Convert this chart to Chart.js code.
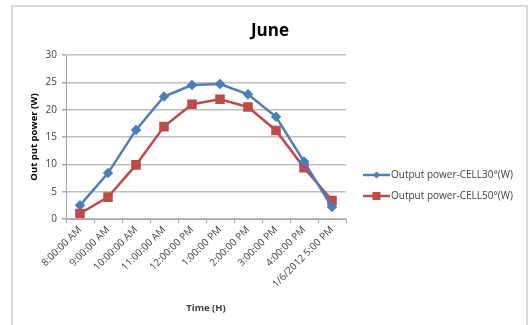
<!DOCTYPE html>
<html>
<head>
<meta charset="utf-8">
<script src="https://cdn.jsdelivr.net/npm/chart.js@4/dist/chart.umd.min.js"></script>
<style>
html,body{margin:0;padding:0;background:#fff;}
#wrap{width:530px;height:325px;position:relative;}
</style>
</head>
<body>
<div id="wrap"><canvas id="c" width="530" height="325"></canvas></div>
<script>
const chartTitle = "June";
const categories = ["8:00:00 AM","9:00:00 AM","10:00:00 AM","11:00:00 AM","12:00:00 PM","1:00:00 PM","2:00:00 PM","3:00:00 PM","4:00:00 PM","1/6/2012 5:00 PM"];
const cell30 = [2.5, 8.4, 16.3, 22.4, 24.5, 24.7, 22.8, 18.7, 10.5, 2.2];
const cell50 = [1.0, 4.0, 9.9, 16.9, 21.0, 21.9, 20.5, 16.2, 9.4, 3.4];
const seriesNames = ["Output power-CELL30°(W)", "Output power-CELL50°(W)"];
const yTicks = [0, 5, 10, 15, 20, 25, 30];
const xTitle = "Time (H)";
const yTitle = "Out put power (W)";

const BLUE = "#4a7ebb", RED = "#be4b48";
const FONT = "'Open Sans', 'Liberation Sans', sans-serif";

const frameAndText = {
  id: "frameAndText",
  beforeDraw(chart) {
    const ctx = chart.ctx;
    ctx.save();
    ctx.fillStyle = "#fff";
    ctx.fillRect(0, 0, chart.width, chart.height);
    ctx.strokeStyle = "#d9d9d9";
    ctx.lineWidth = 2;
    ctx.strokeRect(12, 6, 515, 330);
    ctx.restore();
  },
  afterDraw(chart) {
    const ctx = chart.ctx;
    ctx.save();
    ctx.fillStyle = "#000";
    ctx.font = "bold 17px " + FONT;
    ctx.textAlign = "center";
    ctx.textBaseline = "alphabetic";
    ctx.fillText(chartTitle, 270, 36);
    // legend
    const items = chart.data.datasets;
    const lx = 363, ly = 175, gap = 21;
    items.forEach((ds, i) => {
      const y = ly + i * gap;
      ctx.strokeStyle = ds.borderColor;
      ctx.lineWidth = 2.5;
      ctx.beginPath();
      ctx.moveTo(lx, y);
      ctx.lineTo(lx + 27, y);
      ctx.stroke();
      ctx.fillStyle = ds.pointBackgroundColor;
      const cx = lx + 13.5;
      if (ds.pointStyle === "rectRot") {
        ctx.beginPath();
        ctx.moveTo(cx, y - 3.5); ctx.lineTo(cx + 3.5, y); ctx.lineTo(cx, y + 3.5); ctx.lineTo(cx - 3.5, y);
        ctx.closePath(); ctx.fill();
      } else {
        ctx.fillRect(cx - 4, y - 4, 8, 8);
      }
      ctx.fillStyle = "#404040";
      ctx.font = "10px " + FONT;
      ctx.textAlign = "left";
      ctx.textBaseline = "middle";
      ctx.fillText(ds.label, lx + 28, y + 0.5);
    });
    ctx.restore();
  }
};

new Chart(document.getElementById("c"), {
  type: "line",
  data: {
    labels: categories,
    datasets: [
      {label: seriesNames[0], data: cell30, borderColor: BLUE, backgroundColor: BLUE,
       pointBackgroundColor: BLUE, pointBorderColor: BLUE, pointStyle: "rectRot",
       pointRadius: 3.5, borderWidth: 2.5, tension: 0, order: 1},
      {label: seriesNames[1], data: cell50, borderColor: RED, backgroundColor: RED,
       pointBackgroundColor: RED, pointBorderColor: RED, pointStyle: "rect",
       pointRadius: 5, borderWidth: 2.5, tension: 0, order: 2}
    ]
  },
  options: {
    responsive: false,
    animation: false,
    devicePixelRatio: 1,
    layout: {padding: {left: 29, right: 184, top: 55, bottom: 0}},
    plugins: {legend: {display: false}, title: {display: false}, tooltip: {enabled: false}},
    scales: {
      x: {
        offset: true,
        grid: {display: true, drawOnChartArea: false, drawTicks: true, tickLength: 4, offset: true, color: "#a6a6a6", lineWidth: 1},
        border: {display: true, color: "#a6a6a6", width: 1},
        ticks: {minRotation: 45, maxRotation: 45, autoSkip: false, color: "#404040", font: {size: 10, family: FONT}, padding: 1},
        title: {display: true, text: xTitle, color: "#404040", font: {size: 9.5, weight: "bold", family: FONT}, padding: {top: 0, bottom: 11}},
        afterFit(s) { s.height = 106; }
      },
      y: {
        min: 0, max: 30,
        afterBuildTicks(s) { s.ticks = yTicks.map(v => ({value: v})); },
        grid: {color: "#c0c0c0", lineWidth: 1.5, drawTicks: true, tickLength: 4, tickColor: "#a6a6a6"},
        border: {display: true, color: "#a6a6a6", width: 1},
        ticks: {color: "#404040", font: {size: 10, family: FONT}, padding: 5},
        title: {display: true, text: yTitle, color: "#000", font: {size: 9.5, weight: "bold", family: FONT}, padding: 0},
        afterFit(s) { s.width = 37; }
      }
    }
  },
  plugins: [frameAndText]
});
</script>
</body>
</html>
